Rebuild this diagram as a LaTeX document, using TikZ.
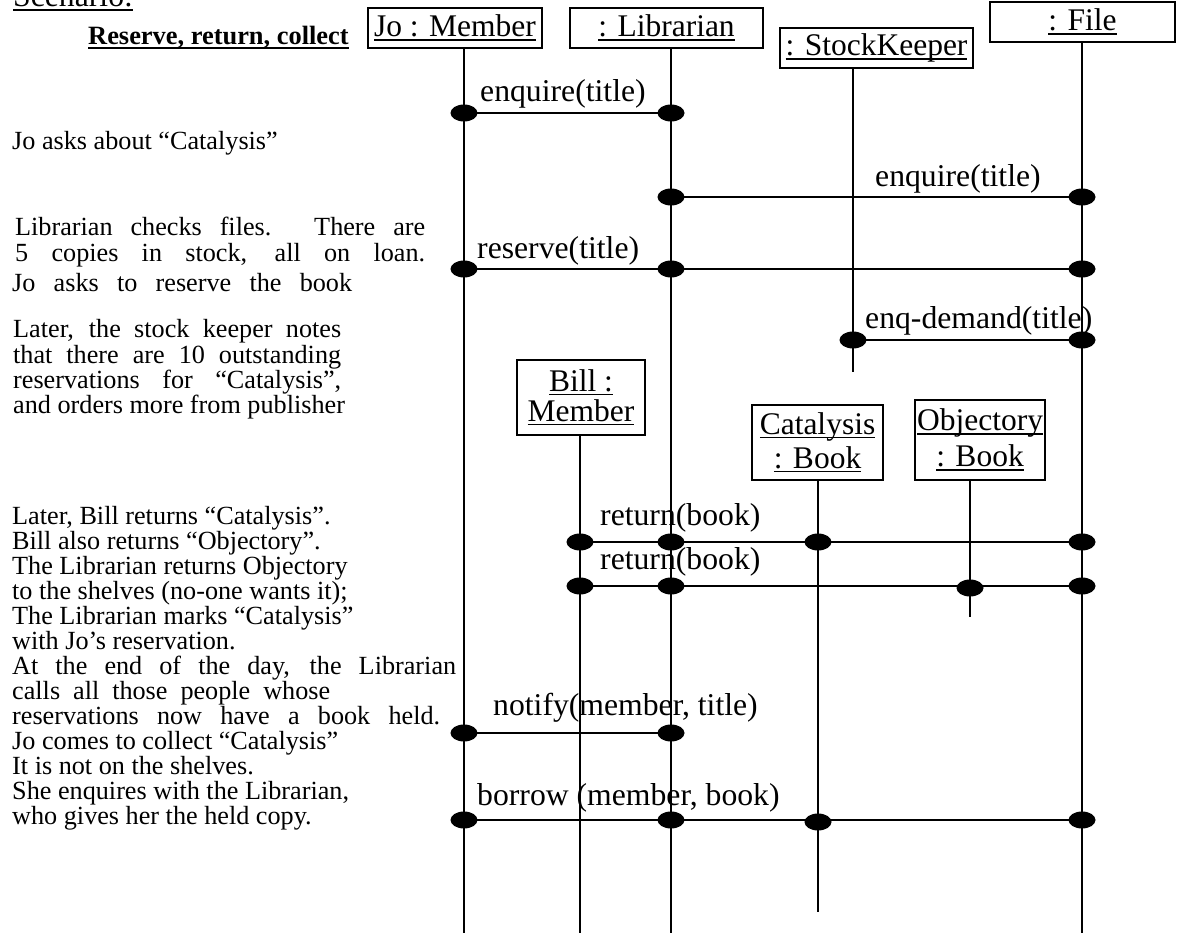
\documentclass[tikz,border=0pt]{standalone}
\usepackage{fontspec}
\setmainfont{Liberation Serif}
\usetikzlibrary{shapes.geometric}
\newcommand\myul[1]{\setbox0\hbox{#1}\rlap{\rule[-4pt]{\wd0}{1.8pt}}\box0}
\newcommand\sline[2]{\makebox[#1][s]{#2}}
\begin{document}
\begin{tikzpicture}[x=1pt,y=-1pt,
  lbl/.style={font=\fontsize{31.7}{32}\selectfont, inner sep=0pt, anchor=base west},
  txt/.style={font=\fontsize{26.2}{26}\selectfont, inner sep=0pt, anchor=base west},
  obj/.style={draw, line width=1.2pt, inner sep=0pt, font=\fontsize{31.5}{32}\selectfont, align=center},
  life/.style={line width=2pt},
  msg/.style={line width=2pt},
  dot/.style={ellipse, fill=black, inner sep=0pt, minimum width=27pt, minimum height=17pt}]
\useasboundingbox (0,0) rectangle (1184,933);

% headings
\node[anchor=base west, inner sep=0pt, font=\fontsize{31.7}{31}\selectfont] (scen) at (13,7) {\myul{Scenario:}};
\node[anchor=base west, inner sep=0pt, font=\fontsize{26.4}{26}\selectfont\bfseries] (title) at (88,45) {\myul{Reserve, return, collect}};

% objects
\node[obj, minimum width=174pt, minimum height=40pt] (jo) at (455,28) {\myul{Jo : Member}};
\node[obj, minimum width=193pt, minimum height=40pt] (lib) at (666.5,28) {\myul{: Librarian}};
\node[obj, minimum width=193pt, minimum height=40pt] (sk) at (876.5,48) {\myul{: StockKeeper}};
\node[obj, minimum width=185pt, minimum height=40pt] (file) at (1082.5,22) {\myul{: File}};
\node[obj, minimum width=128pt, minimum height=75pt, font=\fontsize{31.5}{30}\selectfont] (bill) at (581,397.5) {\myul{Bill :}\\\myul{Member}};
\node[obj, minimum width=131pt, minimum height=75pt, font=\fontsize{31.5}{34}\selectfont] (cat) at (817.5,442.5) {\myul{Catalysis}\\\myul{: Book}};
\node[obj, minimum width=130pt, minimum height=80pt, font=\fontsize{31.5}{36}\selectfont] (objy) at (980,440) {\myul{Objectory}\\\myul{: Book}};

% lifelines
\coordinate (joEnd) at (464,933);
\coordinate (libEnd) at (671,933);
\coordinate (skEnd) at (853,372);
\coordinate (fileEnd) at (1082,933);
\coordinate (billEnd) at (580,933);
\coordinate (catEnd) at (818,912);
\coordinate (objyEnd) at (970,617);
\draw[life] (jo.south -| joEnd) -- (joEnd);
\draw[life] (lib.south -| libEnd) -- (libEnd);
\draw[life] (sk.south -| skEnd) -- (skEnd);
\draw[life] (file.south -| fileEnd) -- (fileEnd);
\draw[life] (bill.south -| billEnd) -- (billEnd);
\draw[life] (cat.south -| catEnd) -- (catEnd);
\draw[life] (objy.south -| objyEnd) -- (objyEnd);

% messages
\node[dot] (m1a) at (464,113) {}; \node[dot] (m1b) at (671,113) {};
\draw[msg] (m1a.center) -- (m1b.center);
\node[dot] (m2a) at (671,197) {}; \node[dot] (m2b) at (1082,197) {};
\draw[msg] (m2a.center) -- (m2b.center);
\node[dot] (m3a) at (464,269) {}; \node[dot] (m3m) at (671,269) {}; \node[dot] (m3b) at (1082,269) {};
\draw[msg] (m3a.center) -- (m3m.center) -- (m3b.center);
\node[dot] (m4a) at (853,340) {}; \node[dot] (m4b) at (1082,340) {};
\draw[msg] (m4a.center) -- (m4b.center);
\node[dot] (m5a) at (580,542) {}; \node[dot] (m5m) at (671,542) {}; \node[dot] (m5c) at (818,542) {}; \node[dot] (m5b) at (1082,542) {};
\draw[msg] (m5a.center) -- (m5m.center) -- (m5c.center) -- (m5b.center);
\node[dot] (m6a) at (580,586) {}; \node[dot] (m6m) at (671,586) {}; \node[dot] (m6o) at (970,588) {}; \node[dot] (m6b) at (1082,586) {};
\draw[msg] (m6a.center) -- (m6m.center) -- (m6b.center);
\node[dot] (m7a) at (464,733) {}; \node[dot] (m7b) at (671,733) {};
\draw[msg] (m7a.center) -- (m7b.center);
\node[dot] (m8a) at (464,820) {}; \node[dot] (m8m) at (671,820) {}; \node[dot] (m8c) at (818,822) {}; \node[dot] (m8b) at (1082,820) {};
\draw[msg] (m8a.center) -- (m8m.center) -- (m8b.center);

% message labels
\node[lbl] (l1) at (480,102) {enquire(title)};
\node[lbl] (l2) at (875,187) {enquire(title)};
\node[lbl] (l3) at (477,259) {reserve(title)};
\node[lbl] (l4) at (865,329) {enq-demand(title)};
\node[lbl] (l5) at (600,525) {return(book)};
\node[lbl] (l6) at (600,569) {return(book)};
\node[lbl] (l7) at (493,715) {notify(member, title)};
\node[lbl] (l8) at (477,805) {borrow (member, book)};

% scenario text
\node[txt] (t1) at (12,150) {Jo asks about “Catalysis”};
\node[txt] (t2) at (15,236) {\sline{410pt}{Librarian checks files. There are}};
\node[txt] (t3) at (15,262) {\sline{410pt}{5 copies in stock, all on loan.}};
\node[txt] (t4) at (12,292) {\sline{340pt}{Jo asks to reserve the book}};
\foreach \t [count=\i] in {{\sline{328pt}{Later, the stock keeper notes}},{\sline{328pt}{that there are 10 outstanding}},{\sline{328pt}{reservations for “Catalysis”,}},{and orders more from publisher}}
  \node[txt] (u\i) at (13,{338+25.3*(\i-1)}) {\t};
\foreach \t [count=\i] in {{Later, Bill returns “Catalysis”.},{Bill also returns “Objectory”.},{The Librarian returns Objectory},{to the shelves (no-one wants it);},{The Librarian marks “Catalysis”},{with Jo’s reservation.},{\sline{444pt}{At the end of the day, the Librarian}},{\sline{318pt}{calls all those people whose}},{\sline{428pt}{reservations now have a book held.}},{Jo comes to collect “Catalysis”},{It is not on the shelves.},{She enquires with the Librarian,},{who gives her the held copy.}}
  \node[txt] (v\i) at (12,{524+25.08*(\i-1)}) {\t};
\end{tikzpicture}
\end{document}
